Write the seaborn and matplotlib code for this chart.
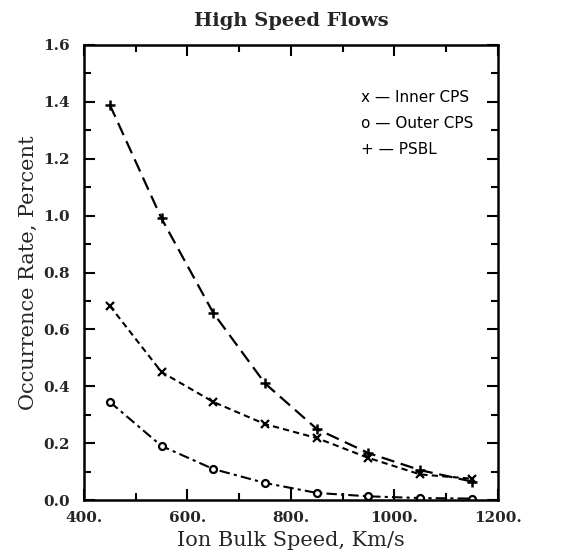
import matplotlib
matplotlib.use("Agg")
import matplotlib.pyplot as plt
import seaborn as sns
import numpy as np
from matplotlib.ticker import MultipleLocator, FormatStrFormatter

sns.set_theme(style="white")
plt.rcParams['font.family'] = ['DejaVu Serif']

speed = [450, 550, 650, 750, 850, 950, 1050, 1150]
inner_cps = [0.683, 0.45, 0.345, 0.267, 0.218, 0.148, 0.09, 0.075]
outer_cps = [0.345, 0.19, 0.109, 0.06, 0.025, 0.013, 0.007, 0.005]
psbl = [1.39, 0.99, 0.658, 0.41, 0.25, 0.165, 0.105, 0.065]
legend_labels = ["x — Inner CPS", "o — Outer CPS", "+ — PSBL"]

fig = plt.figure(figsize=(5.67, 5.59), dpi=100)
ax = fig.add_axes([0.148, 0.1055, 0.730, 0.814])

sns.lineplot(x=speed, y=psbl, ax=ax, color='black', lw=1.6, marker='+',
             markersize=7, markeredgewidth=1.8, markeredgecolor='black')
ax.lines[-1].set_dashes([6, 3])
sns.lineplot(x=speed, y=inner_cps, ax=ax, color='black', lw=1.5, marker='x',
             markersize=5.5, markeredgewidth=1.6, markeredgecolor='black')
ax.lines[-1].set_dashes([3, 2])
sns.lineplot(x=speed, y=outer_cps, ax=ax, color='black', lw=1.5, marker='o',
             markersize=5, markerfacecolor='white', markeredgecolor='black',
             markeredgewidth=1.6)
ax.lines[-1].set_dashes([5, 2, 1.5, 2])

ax.set_xlim(400, 1200)
ax.set_ylim(0, 1.6)
ax.xaxis.set_major_locator(MultipleLocator(200))
ax.xaxis.set_minor_locator(MultipleLocator(100))
ax.yaxis.set_major_locator(MultipleLocator(0.2))
ax.yaxis.set_minor_locator(MultipleLocator(0.1))
ax.xaxis.set_major_formatter(FormatStrFormatter('%d.'))
ax.yaxis.set_major_formatter(FormatStrFormatter('%.1f'))
ax.tick_params(which='both', direction='in', top=True, right=True,
               bottom=True, left=True, color='black', width=1.5)
ax.tick_params(which='major', length=8, labelsize=11)
ax.tick_params(axis='x', which='major', pad=8)
ax.tick_params(axis='y', which='major', pad=10)
ax.tick_params(which='minor', length=5)
for lab in ax.get_xticklabels() + ax.get_yticklabels():
    lab.set_fontweight('bold')
for s in ax.spines.values():
    s.set_color('black')
    s.set_linewidth(1.8)

ax.set_xlabel("Ion Bulk Speed, Km/s", fontsize=15, labelpad=4)
ax.set_ylabel("Occurrence Rate, Percent", fontsize=15, labelpad=4)
ax.set_title("High Speed Flows", fontsize=14, pad=14, fontweight='semibold')

for i, t in enumerate(legend_labels):
    ax.text(0.67, 0.885 - i * 0.057, t, transform=ax.transAxes,
            fontsize=11, family=['DejaVu Sans'], color='black', va='center')

fig.savefig("out.png", dpi=100, facecolor='white')
